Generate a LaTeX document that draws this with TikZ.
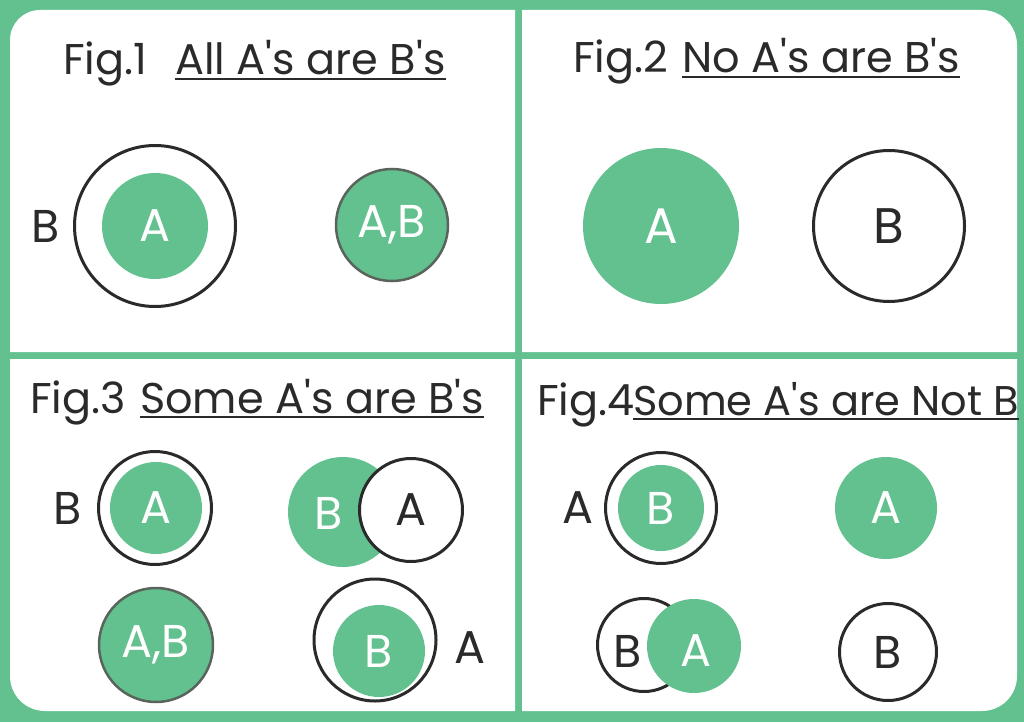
\documentclass[tikz,border=0pt]{standalone}
\usepackage{fontspec}
\setmainfont{Poppins}
\usetikzlibrary{positioning}
\definecolor{venngreen}{RGB}{99,193,143}
\definecolor{ink}{RGB}{42,42,42}
\definecolor{rimgray}{RGB}{88,100,92}
\newcommand{\apos}{\textquotesingle}
\tikzset{
  fullset/.style={circle, fill=venngreen, text=white, inner sep=0pt, font=\fontsize{46}{46}\selectfont},
  rimset/.style={fullset, draw=rimgray, line width=2.5pt},
  ringset/.style={circle, draw=ink, line width=3pt, inner sep=0pt, text=ink, font=\fontsize{46}{46}\selectfont},
  setname/.style={text=ink, inner sep=0pt, font=\fontsize{46}{46}\selectfont},
  headline/.style={anchor=base west, inner sep=0pt, text=ink, font=\fontsize{43}{43}\selectfont},
  underbar/.style={draw=ink, line width=2.5pt}
}
\begin{document}
\begin{tikzpicture}[x=1pt,y=-1pt]
    \fill [venngreen] (0,0) rectangle (1024,722);
    % the four panels, each with one round corner
    \fill [white] (10,352) -- (10,40) arc[start angle=180,end angle=270,radius=30] -- (515,10) -- (515,352) -- cycle;
    \fill [white] (522,10) -- (982,10) arc[start angle=270,end angle=360,radius=35] -- (1017,352) -- (522,352) -- cycle;
    \fill [white] (10,359) -- (515,359) -- (515,711) -- (45,711) arc[start angle=90,end angle=180,radius=35] -- cycle;
    \fill [white] (522,359) -- (1017,359) -- (1017,676) arc[start angle=0,end angle=90,radius=35] -- (522,711) -- cycle;

    % Fig.1
    \node [headline] (fig1) at (63,75) {Fig.1};
    \node [headline] (head1) at (175,75) {All A\apos s are B\apos s};
    \draw [underbar] ([yshift=-4pt]head1.base west) -- ([yshift=-4pt]head1.base east);
    \node [ringset, minimum size=161pt] (outerB1) at (155,226) {};
    \node [fullset, minimum size=106pt] (innerA1) at (155,226) {A};
    \node [setname, left=13pt of outerB1] (nameB1) {B};
    \node [rimset, minimum size=112pt] (sameAB1) at (392,225) {A,B};

    % Fig.2
    \node [headline] (fig2) at (573,73) {Fig.2};
    \node [headline] (head2) at (682,73) {No A\apos s are B\apos s};
    \draw [underbar] ([yshift=-4pt]head2.base west) -- ([yshift=-4pt]head2.base east);
    \node [fullset, minimum size=156pt, font=\fontsize{50}{50}\selectfont] (setA2) at (661,226) {A};
    \node [ringset, minimum size=151pt, font=\fontsize{50}{50}\selectfont] (setB2) at (889,226) {B};

    % Fig.3
    \node [headline] (fig3) at (30,413) {Fig.3};
    \node [headline] (head3) at (140,413) {Some A\apos s are B\apos s};
    \draw [underbar] ([yshift=-4pt]head3.base west) -- ([yshift=-4pt]head3.base east);
    \node [ringset, minimum size=113pt] (outerB3) at (155,508) {};
    \node [fullset, minimum size=92pt] (innerA3) at (156,508) {A};
    \node [setname, left=15pt of outerB3] (nameB3) {B};
    \node [fullset, minimum size=110pt] (leftB3) at (343,512) {};
    \node [ringset, fill=white, minimum size=103pt] (rightA3) at (411,510) {A};
    \node [text=white, inner sep=0pt, font=\fontsize{46}{46}\selectfont] (nameB3b) at (329,513) {B};
    \node [rimset, minimum size=114pt] (sameAB3) at (156,645) {A,B};
    \node [ringset, minimum size=122pt] (outerA3) at (375,640) {};
    \node [fullset, minimum size=92pt] (innerB3) at (379,651) {B};
    \node [setname] (nameA3) at (470,648) {A};

    % Fig.4
    \node [headline] (fig4) at (537,415) {Fig.4};
    \node [headline, font=\fontsize{41.5}{41.5}\selectfont] (head4) at (633,415) {Some A\apos s are Not B};
    \draw [underbar] ([yshift=-4pt]head4.base west) -- ([yshift=-4pt]head4.base east);
    \node [ringset, minimum size=111pt] (outerA4) at (661,508) {};
    \node [fullset, minimum size=86pt] (innerB4) at (661,508) {B};
    \node [setname, left=10pt of outerA4] (nameA4) {A};
    \node [fullset, minimum size=102pt] (aloneA4) at (886,508) {A};
    \node [ringset, minimum size=93pt] (leftB4) at (644,645) {};
    \node [fullset, minimum size=94pt] (rightA4) at (694,646) {};
    \node [setname] (nameB4) at (628,651) {B};
    \node [text=white, inner sep=0pt, font=\fontsize{46}{46}\selectfont] (nameA4b) at (696,651) {A};
    \node [ringset, minimum size=97pt] (aloneB4) at (888,652) {B};
\end{tikzpicture}
\end{document}
